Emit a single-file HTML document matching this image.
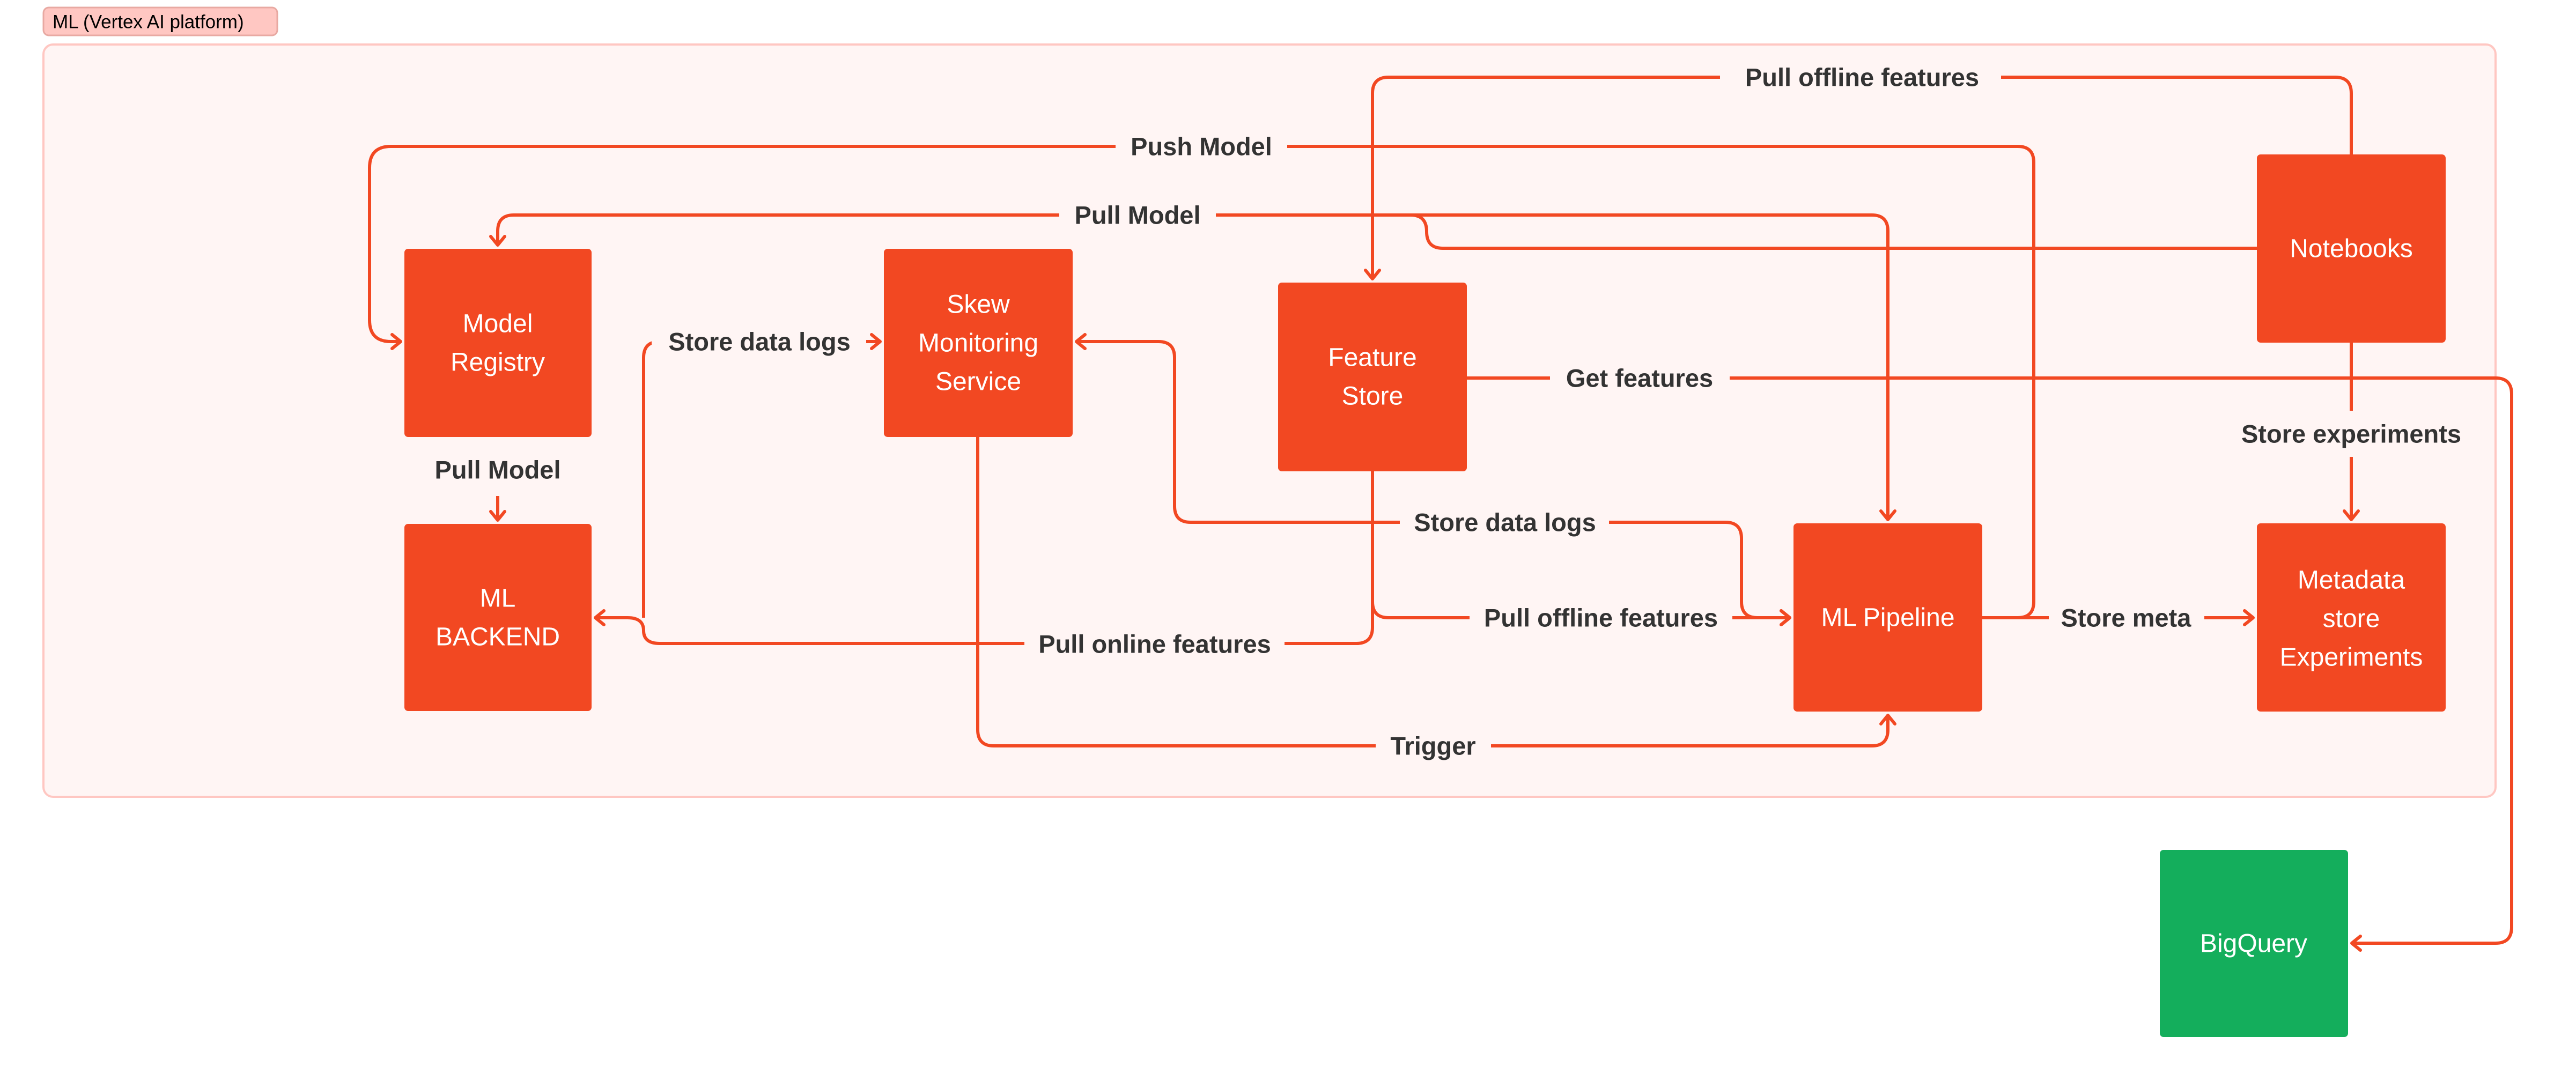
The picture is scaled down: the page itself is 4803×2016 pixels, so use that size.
<!DOCTYPE html>
<html><head><meta charset="utf-8"><style>
html,body{margin:0;padding:0;background:#fff;width:4803px;height:2016px;overflow:hidden}
svg{display:block}
.lbl{font-family:"Liberation Sans",sans-serif;font-weight:bold;font-size:47px;fill:#333;text-anchor:middle;dominant-baseline:central}
.bx{font-family:"Liberation Sans",sans-serif;font-size:48px;fill:#fff;text-anchor:middle;dominant-baseline:central}
.ln{fill:none;stroke:#F24822;stroke-width:6;stroke-linejoin:round}
</style></head><body>
<svg width="4803" height="2016" viewBox="0 0 4803 2016" xmlns="http://www.w3.org/2000/svg">
<defs>
<marker id="a" viewBox="0 0 22 32" refX="19" refY="16" markerWidth="22" markerHeight="32" markerUnits="userSpaceOnUse" orient="auto">
<path d="M3,3 L19,16 L3,29" fill="none" stroke="#F24822" stroke-width="6" stroke-linecap="round" stroke-linejoin="round"/>
</marker>
</defs>
<rect x="81" y="14" width="436" height="52" rx="10" fill="#FFC7C2" stroke="#E8A9A2" stroke-width="3"/>
<text x="98" y="41" font-family="Liberation Sans,sans-serif" font-size="35" fill="#000" dominant-baseline="central">ML (Vertex AI platform)</text>
<rect x="81" y="83" width="4572" height="1403" rx="18" fill="#FFF5F4" stroke="#FFC7C2" stroke-width="4"/>

<!-- connectors -->
<path class="ln" marker-end="url(#a)" d="M4384,288 V174 Q4384,144 4354,144 H2589 Q2559,144 2559,174 V520"/>
<path class="ln" marker-end="url(#a)" d="M3696,1152 H3762 Q3792,1152 3792,1122 V303 Q3792,273 3762,273 H729 Q689,273 689,313 V597 Q689,637 729,637 H747"/>
<path class="ln" marker-end="url(#a)" d="M4208,463 H2690 Q2660,463 2660,432 Q2660,401 2630,401 H958 Q928,401 928,431 V457"/>
<path class="ln" marker-end="url(#a)" d="M2630,401 H3490 Q3520,401 3520,431 V969"/>
<path class="ln" marker-end="url(#a)" d="M928,925 V970"/>
<path class="ln" marker-end="url(#a)" d="M2559,879 V1170 Q2559,1200 2529,1200 H1230 Q1200,1200 1200,1176 Q1200,1152 1170,1152 H1110"/>
<path class="ln" marker-end="url(#a)" d="M1200,1152 V667 Q1200,637 1230,637 H1641"/>
<path class="ln" marker-end="url(#a)" d="M2800,974 H2220 Q2190,974 2190,944 V667 Q2190,637 2160,637 H2007"/>
<path class="ln" marker-end="url(#a)" d="M2800,974 H3217 Q3247,974 3247,1004 V1122 Q3247,1152 3277,1152 H3337"/>
<path class="ln" marker-end="url(#a)" d="M2559,1100 V1122 Q2559,1152 2589,1152 H3337"/>
<path class="ln" marker-end="url(#a)" d="M1823,815 V1361 Q1823,1391 1853,1391 H3490 Q3520,1391 3520,1361 V1334"/>
<path class="ln" marker-end="url(#a)" d="M2735,705 H4653 Q4683,705 4683,735 V1729 Q4683,1759 4653,1759 H4385"/>
<path class="ln" marker-end="url(#a)" d="M4384,639 V969"/>
<path class="ln" marker-end="url(#a)" d="M3696,1152 H4201"/>

<!-- label backgrounds -->
<g fill="#FFF5F4">
<rect x="3207" y="115" width="524" height="60"/>
<rect x="2080" y="243" width="320" height="60"/>
<rect x="1975" y="371" width="292" height="60"/>
<rect x="1215" y="607" width="400" height="60"/>
<rect x="2890" y="675" width="335" height="60"/>
<rect x="4160" y="766" width="450" height="86"/>
<rect x="2610" y="944" width="390" height="60"/>
<rect x="2740" y="1122" width="490" height="60"/>
<rect x="1910" y="1171" width="485" height="60"/>
<rect x="2565" y="1361" width="215" height="60"/>
<rect x="3820" y="1122" width="290" height="60"/>
</g>
<text class="lbl" x="3472" y="144">Pull offline features</text>
<text class="lbl" x="2240" y="273">Push Model</text>
<text class="lbl" x="2121" y="401">Pull Model</text>
<text class="lbl" x="928" y="876">Pull Model</text>
<text class="lbl" x="1416" y="637">Store data logs</text>
<text class="lbl" x="3057" y="705">Get features</text>
<text class="lbl" x="4384" y="809">Store experiments</text>
<text class="lbl" x="2806" y="974">Store data logs</text>
<text class="lbl" x="2985" y="1152">Pull offline features</text>
<text class="lbl" x="2153" y="1201">Pull online features</text>
<text class="lbl" x="2672" y="1391">Trigger</text>
<text class="lbl" x="3964" y="1152">Store meta</text>

<!-- boxes -->
<g fill="#F24822">
<rect x="754" y="464" width="349" height="351" rx="7"/>
<rect x="754" y="977" width="349" height="349" rx="7"/>
<rect x="1648" y="464" width="352" height="351" rx="7"/>
<rect x="2383" y="527" width="352" height="352" rx="7"/>
<rect x="4208" y="288" width="352" height="351" rx="7"/>
<rect x="3344" y="976" width="352" height="351" rx="7"/>
<rect x="4208" y="976" width="352" height="351" rx="7"/>
</g>
<rect x="4027" y="1585" width="351" height="349" rx="7" fill="#14AE5C"/>
<text class="bx" x="928" y="604">Model</text>
<text class="bx" x="928" y="676">Registry</text>
<text class="bx" x="928" y="1116">ML</text>
<text class="bx" x="928" y="1188">BACKEND</text>
<text class="bx" x="1824" y="568">Skew</text>
<text class="bx" x="1824" y="640">Monitoring</text>
<text class="bx" x="1824" y="712">Service</text>
<text class="bx" x="2559" y="667">Feature</text>
<text class="bx" x="2559" y="739">Store</text>
<text class="bx" x="4384" y="464">Notebooks</text>
<text class="bx" x="3520" y="1152">ML Pipeline</text>
<text class="bx" x="4384" y="1082">Metadata</text>
<text class="bx" x="4384" y="1154">store</text>
<text class="bx" x="4384" y="1226">Experiments</text>
<text class="bx" x="4202" y="1760">BigQuery</text>
</svg>
</body></html>
